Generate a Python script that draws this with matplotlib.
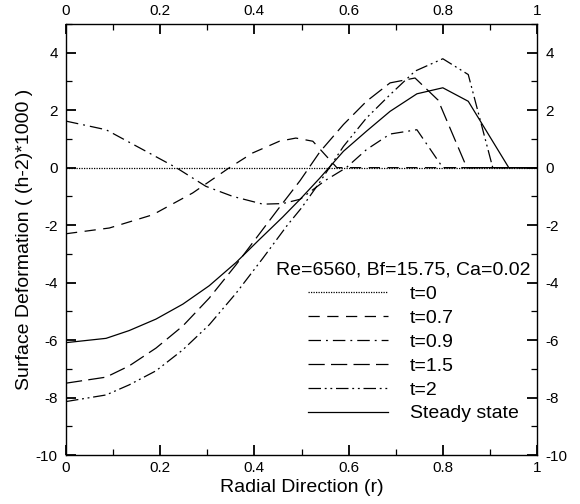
import matplotlib
matplotlib.use("Agg")
import matplotlib.pyplot as plt
from matplotlib.ticker import MultipleLocator

plt.rcParams['font.family'] = ['Liberation Sans', 'DejaVu Sans']
plt.rcParams['axes.unicode_minus'] = False

# surface deformation curves
t0_r = [0.0, 1.0]
t0_y = [0.0, 0.0]

t07_r = [0, 0.092, 0.184, 0.269, 0.347, 0.396, 0.453, 0.488, 0.524, 0.575, 1.0]
t07_y = [-2.30, -2.10, -1.64, -0.88, 0.0, 0.51, 0.92, 1.03, 0.92, 0.0, 0.0]

t09_r = [0, 0.085, 0.163, 0.234, 0.297, 0.354, 0.418, 0.46, 0.497, 0.55, 0.595, 0.638, 0.688, 0.745, 0.80, 1.0]
t09_y = [1.62, 1.32, 0.63, 0.0, -0.65, -1.0, -1.27, -1.25, -1.10, -0.45, 0.0, 0.63, 1.17, 1.32, 0.0, 0.0]

t15_r = [0, 0.085, 0.134, 0.191, 0.248, 0.304, 0.361, 0.396, 0.45, 0.497, 0.539, 0.589, 0.638, 0.688, 0.741, 0.79, 0.851, 1.0]
t15_y = [-7.50, -7.29, -6.90, -6.28, -5.51, -4.54, -3.38, -2.62, -1.45, -0.45, 0.55, 1.50, 2.31, 2.95, 3.12, 2.35, 0.0, 0.0]

t2_r = [0, 0.085, 0.134, 0.191, 0.248, 0.304, 0.361, 0.418, 0.47, 0.50, 0.539, 0.589, 0.638, 0.688, 0.741, 0.80, 0.854, 0.906, 1.0]
t2_y = [-8.14, -7.91, -7.56, -7.07, -6.34, -5.47, -4.37, -3.15, -2.0, -1.4, -0.5, 0.74, 1.73, 2.54, 3.36, 3.79, 3.24, 0.0, 0.0]

steady_r = [0, 0.085, 0.134, 0.191, 0.248, 0.304, 0.361, 0.41, 0.46, 0.497, 0.539, 0.589, 0.638, 0.688, 0.745, 0.80, 0.854, 0.94, 1.0]
steady_y = [-6.09, -5.94, -5.67, -5.27, -4.75, -4.11, -3.30, -2.51, -1.72, -1.10, -0.36, 0.57, 1.27, 1.96, 2.57, 2.78, 2.31, 0.0, 0.0]

labels = ['t=0', 't=0.7', 't=0.9', 't=1.5', 't=2', 'Steady state']
legend_title = 'Re=6560, Bf=15.75, Ca=0.02'

fig = plt.figure(figsize=(5.8, 5.04), dpi=100)
ax = fig.add_axes([0.1138, 0.0972, 0.8121, 0.8552])

lw = 0.9
ax.plot(t0_r, t0_y, color='black', lw=lw, ls=(0, (1, 1)), label=labels[0])
ax.plot(t07_r, t07_y, color='black', lw=lw, ls=(0, (9, 6)), label=labels[1])
ax.plot(t09_r, t09_y, color='black', lw=lw, ls=(0, (10, 4, 1.5, 4)), label=labels[2])
ax.plot(t15_r, t15_y, color='black', lw=lw, ls=(0, (13, 5)), label=labels[3])
ax.plot(t2_r, t2_y, color='black', lw=lw, ls=(0, (10, 3, 1.5, 3, 1.5, 3)), label=labels[4])
ax.plot(steady_r, steady_y, color='black', lw=lw, ls='-', label=labels[5])

ax.set_xlim(0, 1)
ax.set_ylim(-10, 5)
ax.xaxis.set_minor_locator(MultipleLocator(0.1))
ax.yaxis.set_major_locator(MultipleLocator(2))
ax.yaxis.set_minor_locator(MultipleLocator(1))
ax.set_xticks([0, 0.2, 0.4, 0.6, 0.8, 1])
ax.set_xticklabels(['0', '0.2', '0.4', '0.6', '0.8', '1'])

ax.tick_params(which='both', direction='in', top=True, right=True,
               labeltop=True, labelright=True, labelsize=11)
ax.tick_params(axis='x', pad=4)
ax.tick_params(axis='y', pad=6)
ax.tick_params(which='major', length=7, width=1.3)
ax.tick_params(which='minor', length=4.5, width=0.9)
for s in ax.spines.values():
    s.set_linewidth(1.0)

ax.set_xlabel('Radial Direction (r)', fontsize=14, labelpad=3)
ax.set_ylabel('Surface Deformation ( (h-2)*1000 )', fontsize=14, labelpad=2)

ax.text(0.7155, 0.429, legend_title, transform=ax.transAxes, fontsize=14,
        ha='center', va='center')
ax.legend(loc='upper left', bbox_to_anchor=(0.514, 0.393), frameon=False,
          fontsize=14, handlelength=4.1, handletextpad=1.15, labelspacing=0.32,
          borderaxespad=0, borderpad=0)

fig.savefig('out.png', dpi=100)
